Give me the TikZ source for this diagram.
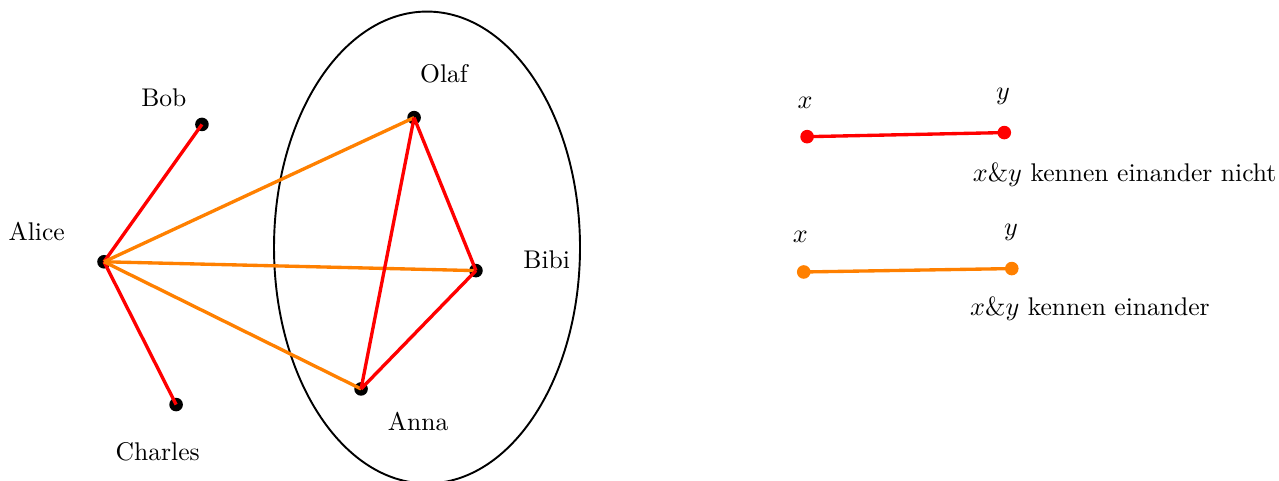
\documentclass[tikz,border=0pt]{standalone}
\usepackage{tikz}
\tikzset{
    dot/.style={circle, fill=black, inner sep=0pt, minimum size=0.2cm},
    reddot/.style={dot, fill=red},
    orangedot/.style={dot, fill=orange},
    kennt/.style={orange, line width=1.4pt},
    kenntnicht/.style={red, line width=1.4pt},
    every node/.append style={font=\fontsize{10.7}{13}\selectfont}
}
\begin{document}
\begin{tikzpicture}
    \useasboundingbox (0,0) rectangle (18.81,7.07);
    % Gruppe
    \draw[thick] (6.28,3.43) ellipse [x radius=2.25cm, y radius=3.47cm];

    % Personen
    \node[dot] (alice) at (1.53, 3.22) {};
    \node[dot] (bob) at (2.97, 5.24) {};
    \node[dot] (charles) at (2.59, 1.12) {};
    \node[dot] (olaf) at (6.09, 5.34) {};
    \node[dot] (bibi) at (7.00, 3.09) {};
    \node[dot] (anna) at (5.31, 1.35) {};

    \node (alicelabel) at (0.54, 3.66) {Alice};
    \node (boblabel) at (2.41, 5.63) {Bob};
    \node (charleslabel) at (2.32, 0.43) {Charles};
    \node (olaflabel) at (6.53, 5.99) {Olaf};
    \node (bibilabel) at (8.04, 3.25) {Bibi};
    \node (annalabel) at (6.15, 0.87) {Anna};

    % Kanten
    \draw[kenntnicht] (alice.center) -- (bob.center);
    \draw[kenntnicht] (alice.center) -- (charles.center);
    \draw[kennt] (alice.center) -- (olaf.center);
    \draw[kennt] (alice.center) -- (bibi.center);
    \draw[kennt] (alice.center) -- (anna.center);
    \draw[kenntnicht] (olaf.center) -- (bibi.center);
    \draw[kenntnicht] (olaf.center) -- (anna.center);
    \draw[kenntnicht] (bibi.center) -- (anna.center);

    % Legende
    \node[reddot] (rx) at (11.87, 5.06) {};
    \node[reddot] (ry) at (14.77, 5.12) {};
    \draw[kenntnicht] (rx.center) -- (ry.center);
    \node (rxlabel) at (11.84, 5.56) {$x$};
    \node (rylabel) at (14.75, 5.65) {$y$};
    \node (rtext) at (16.54, 4.49) {$x\&y$ kennen einander nicht};

    \node[orangedot] (ox) at (11.82, 3.07) {};
    \node[orangedot] (oy) at (14.88, 3.12) {};
    \draw[kennt] (ox.center) -- (oy.center);
    \node (oxlabel) at (11.77, 3.59) {$x$};
    \node (oylabel) at (14.87, 3.65) {$y$};
    \node (otext) at (16.03, 2.53) {$x\&y$ kennen einander};
\end{tikzpicture}
\end{document}
